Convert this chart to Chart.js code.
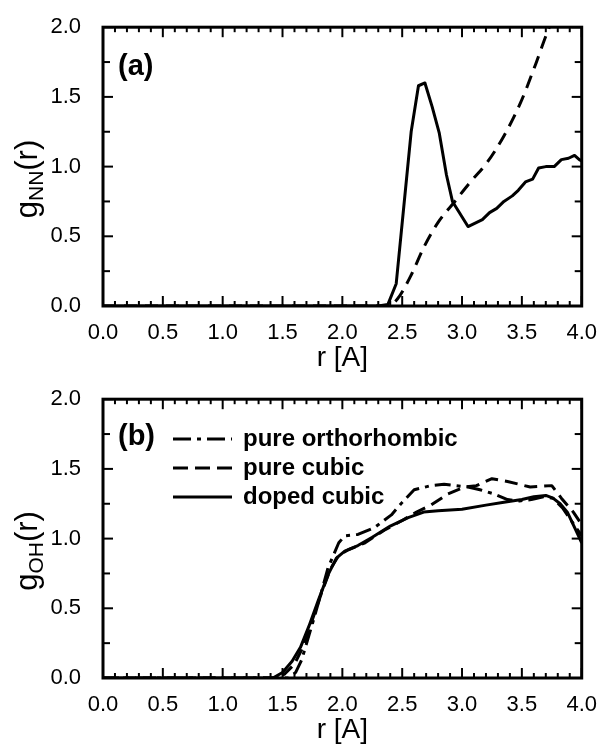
<!DOCTYPE html>
<html>
<head>
<meta charset="utf-8">
<script src="https://cdn.jsdelivr.net/npm/chart.js@4.4.1/dist/chart.umd.min.js"></script>
<style>
  html, body { margin: 0; padding: 0; background: #fff; }
  .panel { position: relative; width: 603px; height: 372px; }
</style>
</head>
<body>
<div class="panel"><canvas id="chartA" width="603" height="372"></canvas></div>
<div class="panel"><canvas id="chartB" width="603" height="372"></canvas></div>
<script>
// panel (a): g_NN(r)
const nnSolidR = [0, 2.30, 2.38, 2.45, 2.575, 2.636, 2.69, 2.75, 2.81, 2.87, 2.92, 3.05, 3.17, 3.23, 3.29, 3.35, 3.42, 3.47, 3.53, 3.59, 3.64, 3.70, 3.77, 3.83, 3.89, 3.94, 3.98, 4.0];
const nnSolidG = [0, 0, 0.01, 0.16, 1.25, 1.58, 1.60, 1.43, 1.24, 0.94, 0.75, 0.57, 0.62, 0.67, 0.70, 0.75, 0.79, 0.83, 0.89, 0.91, 0.99, 1.00, 1.00, 1.05, 1.06, 1.08, 1.05, 1.04];
const nnDashR = [0, 2.38, 2.46, 2.58, 2.68, 2.80, 2.94, 3.07, 3.21, 3.35, 3.49, 3.60, 3.73, 3.80];
const nnDashG = [0, 0, 0.05, 0.23, 0.42, 0.60, 0.75, 0.89, 1.03, 1.22, 1.46, 1.70, 2.00, 2.12];

// panel (b): g_OH(r)
const ohOrthoR = [0, 1.55, 1.61, 1.66, 1.75, 1.82, 1.88, 1.97, 2.02, 2.13, 2.27, 2.41, 2.50, 2.60, 2.74, 2.85, 2.95, 3.05, 3.15, 3.27, 3.38, 3.48, 3.58, 3.68, 3.76, 3.84, 3.92, 4.0];
const ohOrthoG = [0, 0, 0.04, 0.13, 0.39, 0.60, 0.79, 0.97, 1.02, 1.03, 1.08, 1.17, 1.26, 1.35, 1.38, 1.39, 1.38, 1.37, 1.35, 1.32, 1.28, 1.27, 1.28, 1.30, 1.29, 1.22, 1.12, 1.02];
const ohCubicR = [0, 1.45, 1.52, 1.60, 1.67, 1.75, 1.83, 1.90, 1.97, 2.05, 2.19, 2.35, 2.50, 2.62, 2.74, 2.88, 3.02, 3.12, 3.25, 3.38, 3.57, 3.75, 3.83, 3.93, 4.0];
const ohCubicG = [0, 0, 0.03, 0.10, 0.22, 0.42, 0.62, 0.78, 0.88, 0.92, 0.97, 1.06, 1.13, 1.19, 1.24, 1.32, 1.37, 1.38, 1.43, 1.41, 1.37, 1.38, 1.29, 1.19, 1.10];
const ohDopedR = [0, 1.42, 1.50, 1.58, 1.65, 1.72, 1.80, 1.88, 1.95, 2.02, 2.13, 2.25, 2.40, 2.55, 2.68, 2.80, 3.00, 3.20, 3.35, 3.50, 3.60, 3.70, 3.76, 3.82, 3.88, 3.94, 4.0];
const ohDopedG = [0, 0, 0.04, 0.12, 0.22, 0.37, 0.56, 0.74, 0.86, 0.91, 0.95, 1.01, 1.09, 1.15, 1.19, 1.20, 1.21, 1.24, 1.26, 1.28, 1.30, 1.31, 1.29, 1.25, 1.19, 1.08, 0.97];

const legendLabels = ["pure orthorhombic", "pure cubic", "doped cubic"];

const FONT = '"Liberation Sans", Arial, Helvetica, sans-serif';
const pairs = (xs, ys) => xs.map((x, i) => ({ x: x, y: ys[i] }));

// cadre, graduations vers l'intérieur, titre y et légende
const decoPlugin = {
  id: "deco",
  afterDatasetsDraw(chart, args, opts) {
    const { ctx, chartArea, scales } = chart;
    const { left, right, top, bottom } = chartArea;
    const line = (x1, y1, x2, y2) => { ctx.beginPath(); ctx.moveTo(x1, y1); ctx.lineTo(x2, y2); ctx.stroke(); };
    ctx.save();
    ctx.strokeStyle = "#000";
    ctx.lineWidth = 2;
    for (let i = 0; i <= 40; i++) {
      const px = scales.x.getPixelForValue(i / 10);
      const len = i % 5 === 0 ? 10 : 5;
      line(px, bottom, px, bottom - len);
      line(px, top, px, top + len);
    }
    for (let i = 0; i <= 8; i++) {
      const py = scales.y.getPixelForValue(i * 0.25);
      const len = i % 2 === 0 ? 10 : 7;
      line(left, py, left + len, py);
      line(right, py, right - len, py);
    }
    ctx.lineWidth = 3;
    ctx.strokeRect(left, top, right - left, bottom - top);

    // étiquette du panneau
    ctx.fillStyle = "#000";
    ctx.font = "bold 29px " + FONT;
    ctx.textAlign = "left";
    ctx.textBaseline = "alphabetic";
    ctx.fillText(opts.panel, 118, opts.panelY);

    // titre de l'axe y avec indice
    ctx.save();
    const big = "31px " + FONT, small = "21px " + FONT;
    ctx.font = big;
    const wg = ctx.measureText("g").width, wr = ctx.measureText("(r)").width;
    ctx.font = small;
    const ws = ctx.measureText(opts.sub).width;
    const total = wg + ws + wr;
    ctx.translate(37, 179);
    ctx.rotate(-Math.PI / 2);
    let xx = -total / 2;
    ctx.font = big; ctx.fillText("g", xx, 0); xx += wg;
    ctx.font = small; ctx.fillText(opts.sub, xx, 6); xx += ws;
    ctx.font = big; ctx.fillText("(r)", xx, 0);
    ctx.restore();

    // légende
    if (opts.legend) {
      const rows = [67, 96, 125];
      chart.data.datasets.forEach((ds, i) => {
        ctx.lineWidth = 3;
        ctx.setLineDash(ds.legendDash || []);
        line(173, rows[i], 232, rows[i]);
        ctx.setLineDash([]);
        ctx.font = "bold 24px " + FONT;
        ctx.textBaseline = "middle";
        ctx.fillText(ds.label, 243, rows[i]);
      });
    }
    ctx.restore();
  }
};

function makeOptions(panel, panelY, sub, legend) {
  return {
    responsive: false,
    animation: false,
    devicePixelRatio: 1,
    layout: { padding: { top: 24, right: 18, left: 0, bottom: 0 } },
    elements: { point: { radius: 0 }, line: { borderWidth: 3, borderColor: "#000", tension: 0, borderJoinStyle: "round" } },
    plugins: {
      legend: { display: false },
      tooltip: { enabled: false },
      deco: { panel: panel, panelY: panelY, sub: sub, legend: legend }
    },
    scales: {
      x: {
        type: "linear", min: 0, max: 4,
        afterFit: (s) => { s.height = 66; },
        grid: { display: false }, border: { display: false },
        ticks: { stepSize: 0.5, padding: 6, color: "#000", maxRotation: 0, autoSkip: false,
                 font: { family: FONT, size: 22 }, callback: (v) => v.toFixed(1) },
        title: { display: true, text: "r [A]", color: "#000", font: { family: FONT, size: 28 }, padding: { top: 0, bottom: -3 } }
      },
      y: {
        type: "linear", min: 0, max: 2,
        afterFit: (s) => { s.width = 103; },
        grid: { display: false }, border: { display: false },
        ticks: { stepSize: 0.5, padding: 14, color: "#000",
                 font: { family: FONT, size: 22 }, callback: (v) => v.toFixed(1) }
      }
    }
  };
}

new Chart(document.getElementById("chartA"), {
  type: "line",
  data: {
    datasets: [
      { label: "solid", data: pairs(nnSolidR, nnSolidG), borderColor: "#000", fill: false },
      { label: "dashed", data: pairs(nnDashR, nnDashG), borderColor: "#000", borderDash: [13, 8], cubicInterpolationMode: "monotone", fill: false }
    ]
  },
  options: makeOptions("(a)", 75, "NN", false),
  plugins: [decoPlugin]
});

new Chart(document.getElementById("chartB"), {
  type: "line",
  data: {
    datasets: [
      { label: legendLabels[0], data: pairs(ohOrthoR, ohOrthoG), borderColor: "#000", borderDash: [16, 6, 4, 6], legendDash: [18, 6, 4, 6], fill: false },
      { label: legendLabels[1], data: pairs(ohCubicR, ohCubicG), borderColor: "#000", borderDash: [13, 7], legendDash: [15, 7], fill: false },
      { label: legendLabels[2], data: pairs(ohDopedR, ohDopedG), borderColor: "#000", fill: false }
    ]
  },
  options: makeOptions("(b)", 73, "OH", true),
  plugins: [decoPlugin]
});
</script>
</body>
</html>
